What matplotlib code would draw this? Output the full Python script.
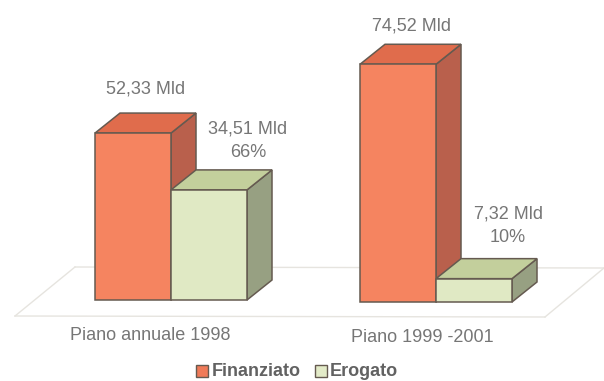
import matplotlib
matplotlib.use("Agg")
import matplotlib.pyplot as plt
from matplotlib.patches import Polygon, Rectangle

categories = ["Piano annuale 1998", "Piano 1999 -2001"]
finanziato = [52.33, 74.52]
erogato = [34.51, 7.32]
labels_fin = ["52,33 Mld", "74,52 Mld"]
labels_ero = ["34,51 Mld\n66%", "7,32 Mld\n10%"]
series = ["Finanziato", "Erogato"]

plt.rcParams["font.family"] = ["Liberation Sans"]
PX = 3.19
W, H = 604, 381
fig = plt.figure(figsize=(W/100, H/100), dpi=100)
ax = fig.add_axes([0, 0, 1, 1])
ax.set_xlim(0, W)
ax.set_ylim(-81/PX, 300/PX)
ax.axis("off")

TXT = "#767676"
EDGE = "#655a50"
BW = 76
DX, DY = 25, 20/PX
FLOOR = "#e6e4df"

def py(y):
    return (300 - y)/PX

for xs, ys in [((15, 545), (316, 317)), ((75, 604), (267, 268)), ((15, 75), (316, 267)), ((545, 604), (317, 268))]:
    ax.plot(xs, [py(y) for y in ys], color=FLOOR, lw=1.0, zorder=1)

def bar(x, base, v, front, top, side):
    y = base + v
    ax.add_patch(Polygon([(x+BW, base), (x+BW+DX, base+DY), (x+BW+DX, y+DY), (x+BW, y)],
                         fc=side, ec=EDGE, lw=1.1, zorder=3))
    ax.add_patch(Polygon([(x, y), (x+DX, y+DY), (x+BW+DX, y+DY), (x+BW, y)],
                         fc=top, ec=EDGE, lw=1.1, zorder=3))
    ax.add_patch(Rectangle((x, base), BW, v, fc=front, ec=EDGE, lw=1.1, zorder=4))

lefts = [95, 360]
bases = [0, -2/PX]
for i in range(2):
    bar(lefts[i], bases[i], finanziato[i], "#f58460", "#e06c4c", "#b9604c")
    bar(lefts[i]+BW, bases[i], erogato[i], "#e0e9c4", "#c3cf9c", "#97a082")

kw = dict(color=TXT, fontsize=13, ha="center", va="center", zorder=6, linespacing=1.5)
ax.text(146, py(89), labels_fin[0], **kw)
ax.text(412, py(26), labels_fin[1], **kw)
ax.text(248, py(141), labels_ero[0], **kw)
ax.text(508, py(226), labels_ero[1], **kw)
ax.text(150, py(336), categories[0], **kw)
ax.text(422, py(337), categories[1], **kw)

ly = py(371)
for x0, c, name, tx in [(196, "#ef7a58", series[0], 212), (315, "#e3ebc8", series[1], 330)]:
    ax.add_patch(Rectangle((x0, ly-6/PX), 12, 12/PX, fc=c, ec=EDGE, lw=1, zorder=5))
    ax.text(tx, ly-5/PX, name, color="#626262", fontsize=13, fontweight="bold", ha="left", va="baseline")

fig.savefig("out.png", dpi=100)
